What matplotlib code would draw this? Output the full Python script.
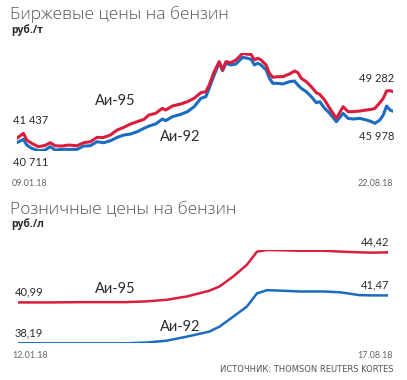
import matplotlib.pyplot as plt
import numpy as np
import pandas as pd

# exchange prices, rub/t (days counted from 09.01.18)
days_top = [0, 4, 6, 9, 13, 17, 20, 23, 27, 31, 36, 40, 44, 48, 52, 56, 60, 64, 68, 72,
            76, 79, 83, 87, 89, 93, 98, 102, 106, 110, 113, 115, 118, 121, 123, 125, 128,
            131, 135, 138, 140, 142, 144, 146, 149, 151, 153, 156, 159, 163, 166, 168, 170,
            173, 176, 179, 181, 184, 187, 191, 195, 198, 201, 205, 209, 212, 214, 217, 219,
            221, 223, 225]
ex_95 = [41437, 42280, 41160, 40600, 40040, 40260, 40710, 40200, 40150, 40320, 40200, 40710,
         40880, 41600, 41600, 42000, 42840, 43290, 43850, 44240, 44630, 45360, 45640, 46480,
         46200, 46870, 47210, 47600, 48160, 49110, 49280, 50400, 52640, 54320, 52920, 54320,
         54150, 54600, 55720, 55550, 55550, 54600, 54880, 54600, 53760, 52360, 51690, 51800,
         51800, 52250, 52750, 52470, 51520, 50960, 50120, 49110, 48830, 47880, 46480, 44800,
         46760, 45920, 45920, 46030, 46200, 46310, 46480, 47430, 48160, 49390, 49450, 49282]
ex_92 = [40711, 41270, 40320, 39760, 39370, 39480, 40040, 39480, 39590, 39590, 39590, 40150,
         40200, 40880, 40710, 41050, 41600, 42000, 42170, 42560, 43120, 43510, 43850, 44690,
         44410, 45080, 45470, 45920, 46760, 48160, 48440, 49840, 52080, 54150, 52810, 54040,
         53760, 53930, 55050, 54880, 54710, 53760, 54040, 53760, 52920, 51520, 50680, 50680,
         50570, 50960, 51070, 50400, 49840, 49280, 48440, 47430, 47600, 46480, 45640, 44240,
         45640, 44800, 44690, 44800, 44520, 44240, 43960, 44520, 45360, 46870, 46200, 45978]

# retail prices, rub/l (days counted from 12.01.18)
days_bot = [0, 19, 38, 63, 75, 87, 99, 112, 118, 126, 134, 140, 146, 155, 165, 179, 189, 200, 208, 217]
rt_95 = [40.99, 40.99, 41.01, 41.01, 41.06, 41.17, 41.40, 41.79, 42.08, 42.76, 43.56, 44.47,
         44.58, 44.56, 44.53, 44.53, 44.47, 44.42, 44.40, 44.42]
rt_92 = [38.19, 38.19, 38.19, 38.19, 38.24, 38.37, 38.65, 38.99, 39.33, 40.01, 40.70, 41.61,
         41.83, 41.79, 41.74, 41.74, 41.68, 41.49, 41.47, 41.47]

start_top, end_top = "09.01.18", "22.08.18"
start_bot, end_bot = "12.01.18", "17.08.18"

RED = "#d81e3c"
BLUE = "#1a6cc0"
TXT = "#2b2b2b"
W, H = 407, 380


def px(x, y):
    return x / W, 1 - y / H


def fmt_rub(v):
    return f"{v:,}".replace(",", " ")


def fmt_dec(v):
    return f"{v:.2f}".replace(".", ",")


fig = plt.figure(figsize=(W / 100, H / 100), dpi=100)
fig.patch.set_facecolor("white")

x_top = pd.Timestamp("2018-01-09") + pd.to_timedelta(days_top, unit="D")
x_bot = pd.Timestamp("2018-01-12") + pd.to_timedelta(days_bot, unit="D")

# top panel
ax1 = fig.add_axes([16.7 / W, 1 - 150.7 / H, 376.6 / W, 97.4 / H])
ax1.plot(x_top, ex_92, color=BLUE, lw=2.2, solid_joinstyle="round")
ax1.plot(x_top, ex_95, color=RED, lw=2.2, solid_joinstyle="round")
ax1.set_xlim(x_top[0], x_top[-1])
ax1.set_ylim(min(ex_92 + ex_95), max(ex_92 + ex_95))
ax1.axis("off")

# bottom panel
ax2 = fig.add_axes([18.3 / W, 1 - 343.3 / H, 370 / W, 93.3 / H])
ax2.plot(x_bot, rt_92, color=BLUE, lw=1.8)
ax2.plot(x_bot, rt_95, color=RED, lw=1.8)
ax2.set_xlim(x_bot[0], x_bot[-1])
ax2.set_ylim(min(rt_92 + rt_95), max(rt_92 + rt_95))
ax2.axis("off")

title_kw = dict(fontsize=12.5, color="#555555", family="Open Sans", fontweight="light", va="center")
unit_kw = dict(fontsize=7.5, color=TXT, family="Open Sans", fontweight="bold", va="center")
val_kw = dict(fontsize=8, color=TXT, family="Lato", va="center")
lab_kw = dict(fontsize=10.5, color=TXT, family="Lato", va="center")
date_kw = dict(fontsize=6.5, color="#666666", family="Lato", va="center")

fig.text(*px(10, 14), "Биржевые цены на бензин", **title_kw)
fig.text(*px(11, 30), "руб./т", **unit_kw)
fig.text(*px(13, 120), fmt_rub(ex_95[0]), **val_kw)
fig.text(*px(13, 163), fmt_rub(ex_92[0]), **val_kw)
fig.text(*px(95, 101), "Аи-95", **lab_kw)
fig.text(*px(160, 137), "Аи-92", **lab_kw)
fig.text(*px(394, 79), fmt_rub(ex_95[-1]), ha="right", **val_kw)
fig.text(*px(394, 136), fmt_rub(ex_92[-1]), ha="right", **val_kw)
fig.text(*px(12, 183), start_top, **date_kw)
fig.text(*px(393, 183), end_top, ha="right", **date_kw)

fig.text(*px(10, 210), "Розничные цены на бензин", **title_kw)
fig.text(*px(11, 224), "руб./л", **unit_kw)
fig.text(*px(15, 292), fmt_dec(rt_95[0]), **val_kw)
fig.text(*px(15, 333), fmt_dec(rt_92[0]), **val_kw)
fig.text(*px(95, 289), "Аи-95", **lab_kw)
fig.text(*px(160, 327), "Аи-92", **lab_kw)
fig.text(*px(389, 242), fmt_dec(rt_95[-1]), ha="right", **val_kw)
fig.text(*px(389, 285), fmt_dec(rt_92[-1]), ha="right", **val_kw)
fig.text(*px(12, 356), start_bot, **date_kw)
fig.text(*px(393, 356), end_bot, ha="right", **date_kw)
fig.text(*px(394, 369), "ИСТОЧНИК: THOMSON REUTERS KORTES", ha="right",
         fontsize=6, color="#555555", family=["Liberation Sans Narrow", "DejaVu Sans"], va="center")

fig.savefig("out.png", dpi=100)
